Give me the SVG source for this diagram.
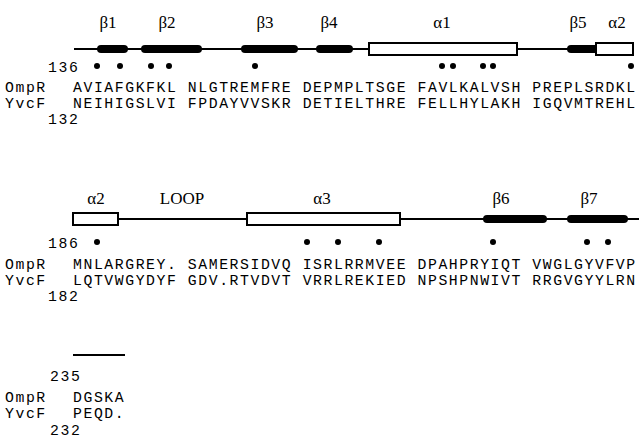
<svg xmlns="http://www.w3.org/2000/svg" width="639" height="444" viewBox="0 0 639 444">
<style>
.seq{font-family:"Liberation Mono","Courier New",monospace;font-size:14.8px;letter-spacing:1.56px;fill:#000}
.lab{font-family:"Liberation Serif","Times New Roman",serif;font-size:17px;fill:#000;text-anchor:middle}
.thin{stroke:#000;stroke-width:2;fill:none}
.strand{stroke:#000;stroke-width:8;stroke-linecap:round;fill:none}
.helix{fill:#fff;stroke:#000;stroke-width:2}
.dot{fill:#000}
</style>
<rect width="639" height="444" fill="#fff"/>

<g id="block1">
  <g id="labels1">
    <text class="lab" x="108" y="28">β1</text>
    <text class="lab" x="167" y="28">β2</text>
    <text class="lab" x="265" y="28">β3</text>
    <text class="lab" x="329" y="28">β4</text>
    <text class="lab" x="442" y="28">α1</text>
    <text class="lab" x="578" y="28">β5</text>
    <text class="lab" x="617" y="28">α2</text>
  </g>
  <g id="structure1">
    <line class="thin" x1="74" y1="49" x2="600" y2="49"/>
    <line class="strand" x1="101" y1="49" x2="124" y2="49"/>
    <line class="strand" x1="145" y1="49" x2="198" y2="49"/>
    <line class="strand" x1="245" y1="49" x2="294" y2="49"/>
    <line class="strand" x1="320" y1="49" x2="349" y2="49"/>
    <rect class="helix" x="369" y="43" width="148" height="12"/>
    <line class="strand" x1="571" y1="49" x2="596" y2="49"/>
    <rect class="helix" x="596" y="43" width="37" height="12"/>
  </g>
  <g id="dots1">
    <circle class="dot" cx="97" cy="66" r="3"/>
    <circle class="dot" cx="120" cy="66" r="3"/>
    <circle class="dot" cx="151" cy="66" r="3"/>
    <circle class="dot" cx="169" cy="66" r="3"/>
    <circle class="dot" cx="255" cy="66" r="3"/>
    <circle class="dot" cx="442" cy="66" r="3"/>
    <circle class="dot" cx="453" cy="66" r="3"/>
    <circle class="dot" cx="483" cy="66" r="3"/>
    <circle class="dot" cx="493" cy="66" r="3"/>
    <circle class="dot" cx="631" cy="66" r="3"/>
  </g>
  <g id="seq1">
    <text class="seq" x="48" y="72">136</text>
    <text class="seq" x="5" y="92">OmpR</text>
    <text class="seq" x="73" y="92" xml:space="preserve">AVIAFGKFKL NLGTREMFRE DEPMPLTSGE FAVLKALVSH PREPLSRDKL</text>
    <text class="seq" x="5" y="108">YvcF</text>
    <text class="seq" x="73" y="108" xml:space="preserve">NEIHIGSLVI FPDAYVVSKR DETIELTHRE FELLHYLAKH IGQVMTREHL</text>
    <text class="seq" x="48" y="124">132</text>
  </g>
</g>

<g id="block2">
  <g id="labels2">
    <text class="lab" x="96" y="204">α2</text>
    <text class="lab" x="182" y="204">LOOP</text>
    <text class="lab" x="322" y="204">α3</text>
    <text class="lab" x="501" y="204">β6</text>
    <text class="lab" x="589" y="204">β7</text>
  </g>
  <g id="structure2">
    <line class="thin" x1="118" y1="219" x2="639" y2="219"/>
    <rect class="helix" x="73" y="213" width="45" height="12"/>
    <rect class="helix" x="247" y="213" width="153" height="12"/>
    <line class="strand" x1="487" y1="219" x2="543" y2="219"/>
    <line class="strand" x1="571" y1="219" x2="624" y2="219"/>
  </g>
  <g id="dots2">
    <circle class="dot" cx="97" cy="242" r="3"/>
    <circle class="dot" cx="307" cy="242" r="3"/>
    <circle class="dot" cx="338" cy="242" r="3"/>
    <circle class="dot" cx="379" cy="242" r="3"/>
    <circle class="dot" cx="493" cy="242" r="3"/>
    <circle class="dot" cx="587" cy="242" r="3"/>
    <circle class="dot" cx="608" cy="242" r="3"/>
  </g>
  <g id="seq2">
    <text class="seq" x="48" y="248">186</text>
    <text class="seq" x="5" y="269">OmpR</text>
    <text class="seq" x="73" y="269" xml:space="preserve">MNLARGREY. SAMERSIDVQ ISRLRRMVEE DPAHPRYIQT VWGLGYVFVP</text>
    <text class="seq" x="5" y="285">YvcF</text>
    <text class="seq" x="73" y="285" xml:space="preserve">LQTVWGYDYF GDV.RTVDVT VRRLREKIED NPSHPNWIVT RRGVGYYLRN</text>
    <text class="seq" x="48" y="301">182</text>
  </g>
</g>

<g id="block3">
  <g id="structure3">
    <line class="thin" x1="73" y1="355" x2="125" y2="355"/>
  </g>
  <g id="seq3">
    <text class="seq" x="50" y="381">235</text>
    <text class="seq" x="5" y="402">OmpR</text>
    <text class="seq" x="73" y="402" xml:space="preserve">DGSKA</text>
    <text class="seq" x="5" y="418">YvcF</text>
    <text class="seq" x="73" y="418" xml:space="preserve">PEQD.</text>
    <text class="seq" x="50" y="435">232</text>
  </g>
</g>
</svg>
